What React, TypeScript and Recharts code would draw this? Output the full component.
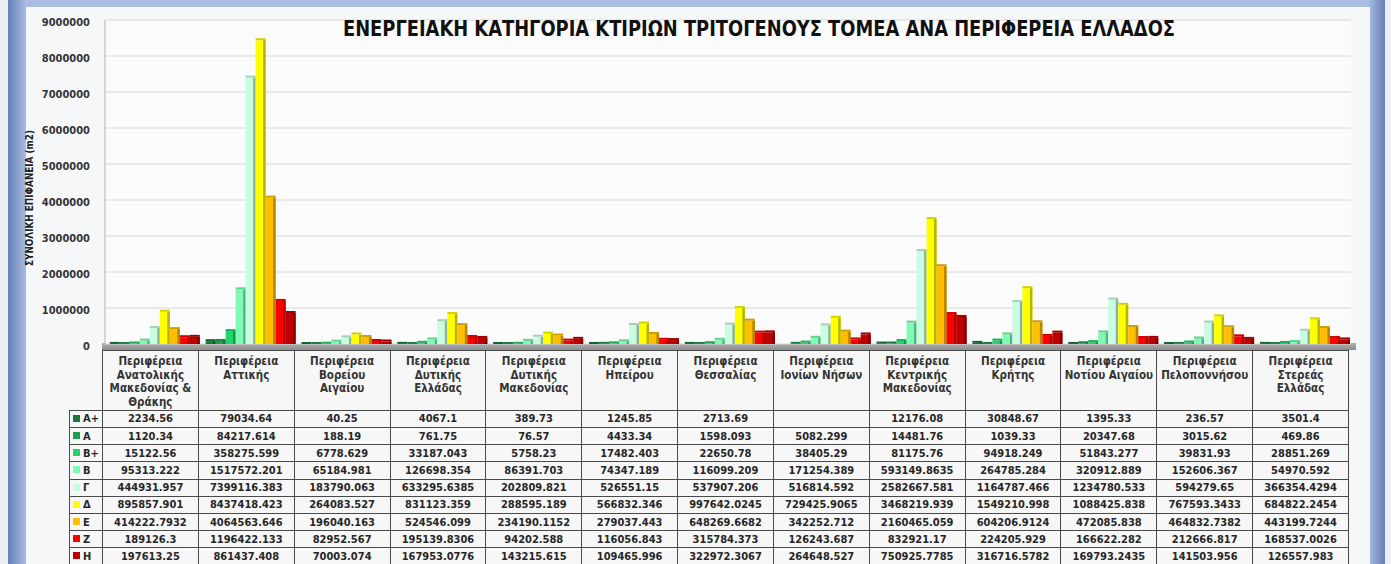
import React from "react";
import { BarChart, Bar, XAxis, YAxis, CartesianGrid } from "recharts";

const TITLE = "ΕΝΕΡΓΕΙΑΚΗ ΚΑΤΗΓΟΡΙΑ ΚΤΙΡΙΩΝ ΤΡΙΤΟΓΕΝΟΥΣ ΤΟΜΕΑ ΑΝΑ ΠΕΡΙΦΕΡΕΙΑ ΕΛΛΑΔΟΣ";
const Y_LABEL = "ΣΥΝΟΛΙΚΗ ΕΠΙΦΑΝΕΙΑ (m2)";

const regions = [
  "Περιφέρεια\nΑνατολικής\nΜακεδονίας &\nΘράκης",
  "Περιφέρεια\nΑττικής",
  "Περιφέρεια\nΒορείου\nΑιγαίου",
  "Περιφέρεια\nΔυτικής\nΕλλάδας",
  "Περιφέρεια\nΔυτικής\nΜακεδονίας",
  "Περιφέρεια\nΗπείρου",
  "Περιφέρεια\nΘεσσαλίας",
  "Περιφέρεια\nΙονίων Νήσων",
  "Περιφέρεια\nΚεντρικής\nΜακεδονίας",
  "Περιφέρεια\nΚρήτης",
  "Περιφέρεια\nΝοτίου Αιγαίου",
  "Περιφέρεια\nΠελοποννήσου",
  "Περιφέρεια\nΣτερεάς\nΕλλάδας",
];

const yTicks = [0, 1000000, 2000000, 3000000, 4000000, 5000000, 6000000, 7000000, 8000000, 9000000];

const seriesKeys = ["ap", "a", "bp", "b", "g", "d", "e", "z", "h"];
const seriesLabels = ["Α+", "Α", "Β+", "Β", "Γ", "Δ", "Ε", "Ζ", "Η"];
const seriesColors = ["#17773b", "#1f9d4f", "#1fd46b", "#7dfbb4", "#c9fde2", "#ffff00", "#ffbf00", "#ff0000", "#c00000"];

const valAp = [2234.56, 79034.64, 40.25, 4067.1, 389.73, 1245.85, 2713.69, null, 12176.08, 30848.67, 1395.33, 236.57, 3501.4];
const valA = [1120.34, 84217.614, 188.19, 761.75, 76.57, 4433.34, 1598.093, 5082.299, 14481.76, 1039.33, 20347.68, 3015.62, 469.86];
const valBp = [15122.56, 358275.599, 6778.629, 33187.043, 5758.23, 17482.403, 22650.78, 38405.29, 81175.76, 94918.249, 51843.277, 39831.93, 28851.269];
const valB = [95313.222, 1517572.201, 65184.981, 126698.354, 86391.703, 74347.189, 116099.209, 171254.389, 593149.8635, 264785.284, 320912.889, 152606.367, 54970.592];
const valG = [444931.957, 7399116.383, 183790.063, 633295.6385, 202809.821, 526551.15, 537907.206, 516814.592, 2582667.581, 1164787.466, 1234780.533, 594279.65, 366354.4294];
const valD = [895857.901, 8437418.423, 264083.527, 831123.359, 288595.189, 566832.346, 997642.0245, 729425.9065, 3468219.939, 1549210.998, 1088425.838, 767593.3433, 684822.2454];
const valE = [414222.7932, 4064563.646, 196040.163, 524546.099, 234190.1152, 279037.443, 648269.6682, 342252.712, 2160465.059, 604206.9124, 472085.838, 464832.7382, 443199.7244];
const valZ = [189126.3, 1196422.133, 82952.567, 195139.8306, 94202.588, 116056.843, 315784.373, 126243.687, 832921.17, 224205.929, 166622.282, 212666.817, 168537.0026];
const valH = [197613.25, 861437.408, 70003.074, 167953.0776, 143215.615, 109465.996, 322972.3067, 264648.527, 750925.7785, 316716.5782, 169793.2435, 141503.956, 126557.983];

const seriesValues = [valAp, valA, valBp, valB, valG, valD, valE, valZ, valH];

const data = regions.map((name, i) => {
  const row: any = { name };
  seriesKeys.forEach((k, s) => {
    row[k] = seriesValues[s][i];
  });
  return row;
});

const FONT = "'DejaVu Sans Condensed', 'DejaVu Sans', sans-serif";
const NARROW = "'Liberation Sans Narrow', 'Arial Narrow', 'DejaVu Sans Condensed', sans-serif";

function darken(hex: string, f: number) {
  const n = parseInt(hex.slice(1), 16);
  const r = Math.round(((n >> 16) & 255) * f);
  const g = Math.round(((n >> 8) & 255) * f);
  const b = Math.round((n & 255) * f);
  return `rgb(${r},${g},${b})`;
}

const Bar3D = (props: any) => {
  const { x, y, width, height, fill } = props;
  if (x == null || y == null || !width || height == null || height < 0) return null;
  const side = darken(fill, 0.7);
  const top = darken(fill, 0.82);
  return (
    <g>
      <rect x={x} y={y} width={width} height={height} fill={fill} />
      <rect x={x + width - 2.5} y={y} width={2.5} height={height} fill={side} />
      <rect x={x} y={y - 2} width={width} height={2} fill={top} />
    </g>
  );
};

const YTick = (props: any) => {
  const { x, y, payload } = props;
  return (
    <text x={x} y={y} dy={6} textAnchor="end" fontFamily={FONT} fontWeight="bold" fontSize={11} fill="#333">
      {String(payload.value)}
    </text>
  );
};

const fmt = (v: number | null) => (v == null ? "" : String(v));

export default function App() {
  const colW = 95.85;
  const cell = { border: "1px solid #4a4a4a", background: "#f7f7f8" };
  return (
    <div style={{ position: "absolute", left: 0, top: 0, width: 1391, height: 564, overflow: "hidden", background: "#eceef1" }}>
      <div
        style={{
          position: "absolute",
          left: 8,
          top: 0,
          width: 1377,
          height: 564,
          background: "linear-gradient(to right, #6580b6 0px, #a9bde2 18px, #a9bde2 1360px, #6580b6 1377px)",
        }}
      />
      <div style={{ position: "absolute", left: 26, top: 7, width: 1344, height: 560, background: "#f6f7f9" }} />
      <div
        style={{
          position: "absolute",
          left: 102,
          top: 343,
          width: 1254,
          height: 7,
          background: "linear-gradient(to bottom, #b4b4b4, #8a8a8a)",
        }}
      />
      <div style={{ position: "absolute", left: 0, top: 0 }}>
        <BarChart
          width={1391}
          height={352}
          data={data}
          margin={{ top: 20, right: 40, left: 25, bottom: 7 }}
          barCategoryGap="5%"
          barGap={0}
        >
          <CartesianGrid vertical={false} stroke="#d6d6d6" fill="#fbfbfc" />
          <XAxis dataKey="name" tick={false} height={1} axisLine={false} tickLine={false} />
          <YAxis
            width={80}
            domain={[0, 9000000]}
            ticks={yTicks}
            interval={0}
            tickSize={0}
            tickMargin={15}
            tickLine={false}
            axisLine={{ stroke: "#b0b0b0" }}
            tick={<YTick />}
          />
          {seriesKeys.map((k, s) => (
            <Bar key={k} dataKey={k} fill={seriesColors[s]} isAnimationActive={false} shape={<Bar3D />} />
          ))}
        </BarChart>
      </div>
      <table
        style={{
          position: "absolute",
          left: 69,
          top: 350,
          width: 33 + colW * 13,
          borderCollapse: "collapse",
          tableLayout: "fixed",
          fontFamily: FONT,
          fontWeight: "bold",
          fontSize: 11,
          color: "#262626",
        }}
      >
        <colgroup>
          <col style={{ width: 33 }} />
          {regions.map((r, i) => (
            <col key={i} style={{ width: colW }} />
          ))}
        </colgroup>
        <tbody>
          <tr style={{ height: 58 }}>
            <td style={{ border: "none", background: "transparent" }} />
            {regions.map((r, i) => (
              <td
                key={i}
                style={{
                  ...cell,
                  verticalAlign: "top",
                  textAlign: "center",
                  whiteSpace: "pre-line",
                  lineHeight: "13.7px",
                  padding: "4px 0 0 0",
                  fontSize: 11.5,
                  color: "#333",
                }}
              >
                {r}
              </td>
            ))}
          </tr>
          {seriesKeys.map((k, s) => (
            <tr key={k} style={{ height: 17.2 }}>
              <td style={{ ...cell, padding: "0 0 0 3px", whiteSpace: "nowrap", lineHeight: "15px" }}>
                <span
                  style={{
                    display: "inline-block",
                    width: 7,
                    height: 7,
                    background: seriesColors[s],
                    marginRight: 3,
                    verticalAlign: "middle",
                    position: "relative",
                    top: -1,
                  }}
                />
                {seriesLabels[s]}
              </td>
              {seriesValues[s].map((v, i) => (
                <td key={i} style={{ ...cell, textAlign: "center", padding: 0, lineHeight: "15px" }}>
                  {fmt(v)}
                </td>
              ))}
            </tr>
          ))}
        </tbody>
      </table>
      <svg width={1391} height={564} style={{ position: "absolute", left: 0, top: 0, pointerEvents: "none" }}>
        <text x={759} y={36} textAnchor="middle" fontFamily={NARROW} fontWeight="bold" fontSize={21} fill="#111" textLength={832} lengthAdjust="spacingAndGlyphs">
          {TITLE}
        </text>
        <text
          transform="translate(33,198) rotate(-90)"
          textAnchor="middle"
          fontFamily={NARROW}
          fontWeight="bold"
          fontSize={10.5}
          fill="#222"
          textLength={136}
          lengthAdjust="spacingAndGlyphs"
        >
          {Y_LABEL}
        </text>
      </svg>
    </div>
  );
}
